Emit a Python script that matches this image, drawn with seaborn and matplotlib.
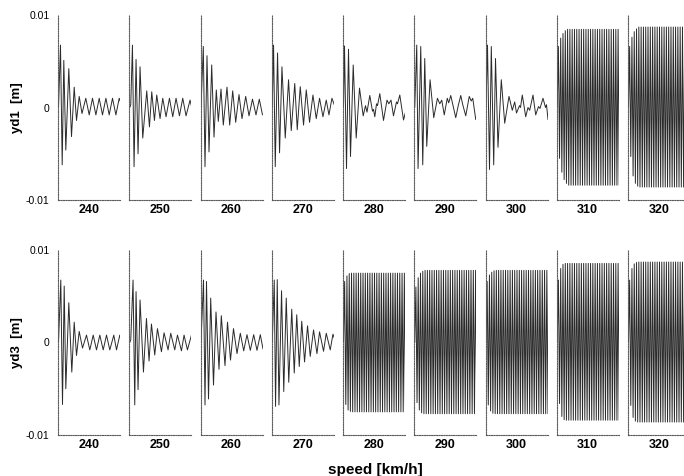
import numpy as np
import pandas as pd
import matplotlib
matplotlib.use("Agg")
import matplotlib.pyplot as plt
import seaborn as sns

# ---------------- data ----------------
speeds = [240, 250, 260, 270, 280, 290, 300, 310, 320]
row_labels = ["yd1  [m]", "yd3  [m]"]
y_ticks = [-0.01, 0.0, 0.01]
y_tick_labels = ["-0.01", "0", "0.01"]
x_title = "speed [km/h]"

# damped responses: (time in panel units 0..62, displacement in mm) at extrema
yd1_240 = [(0, 0), (2, 6.75), (3.7, -6.2), (5.3, 5.1), (7.3, -4.6), (10.3, 4.2), (13, -3.15),
           (15.7, 2.2), (18, -1.4), (20.7, 1.2), (23.5, -0.65), (27.3, 1.0), (30.7, -0.8),
           (34, 1.0), (37.4, -0.8), (40.7, 1.0), (44, -0.8), (47.4, 1.0), (50.7, -0.8),
           (54, 1.0), (57.4, -0.8), (60.7, 1.0), (62, 0.6)]
yd1_250 = [(0, 0), (1, 0.3), (2.7, 6.75), (4.3, -6.4), (6.3, 5.2), (8.3, -5.0), (10.3, 4.4),
           (13, -3.3), (17, 1.8), (19.7, -2.1), (22, 1.7), (24.7, -1.4), (27, 1.35), (30.3, -1.2),
           (33, 1.0), (36.3, -1.0), (39.7, 1.0), (43, -1.0), (46.3, 1.0), (49.7, -0.9), (53, 1.0),
           (56.3, -0.9), (60.3, 0.8), (62, 0.0)]
yd1_260 = [(0, 0), (2.3, 6.6), (4, -6.4), (6, 5.6), (8, -4.8), (10.7, 4.6), (13, -3.2), (15.3, 1.9),
           (17.3, -1.5), (20, 2.0), (22.3, -1.9), (26, 2.2), (28.7, -1.9), (31.7, 1.8), (34.7, -1.6),
           (38, 1.4), (41, -1.2), (44.7, 1.2), (48, -0.9), (51.5, 0.9), (55, -0.8), (58.3, 0.9),
           (61.5, -0.8)]
yd1_270 = [(0, 0), (1.3, 6.75), (3, -6.4), (5.3, 5.9), (7.3, -4.9), (9.7, 4.4), (13, -3.3),
           (16.3, 3.0), (19, -2.5), (22.5, 2.6), (25, -2.4), (28, 2.25), (31.3, -1.9), (34, 1.9),
           (37.3, -1.6), (40.7, 1.35), (44, -1.2), (47.3, 1.0), (50.7, -1.0), (54, 0.8),
           (56.7, -0.8), (59.7, 1.0), (62, 0.3)]
yd1_280 = [(0, 0), (1, 6.65), (3, -6.6), (5, 6.3), (7, -5.3), (9.7, 4.6), (12.7, -3.3), (16, 2.1),
           (19.7, -0.9), (22, 0.2), (23.5, -0.5), (26.3, 1.3), (29, -0.4), (30, -0.2), (31.3, -1.0),
           (33, 0.4), (34, 0.2), (36.3, 1.5), (40, -1.4), (43.5, 0.8), (45.3, 0.4), (47.5, 0.8),
           (50, -0.9), (53, 0.6), (54, 0.4), (56.3, 1.35), (60, -1.35), (62, -0.5)]
yd1_290 = [(0, 0), (2, 6.75), (3.3, -6.6), (6, 6.6), (8, -6.2), (10, 5.3), (12, -4.2), (15.3, 3.0),
           (19, -1.1), (22.7, 1.0), (25, 0.4), (27, 0.8), (29.5, -0.8), (32.5, 1.0), (34, 0.5),
           (36, 1.3), (41, -1.1), (43.5, 0.2), (46, 1.3), (48, 0.3), (51, -0.9), (54.5, 1.2),
           (56.5, 0.7), (58, 1.0), (61, -1.3), (62, -0.9)]
yd1_300 = [(0, 0), (1.5, 6.75), (3.5, -6.7), (5.3, 6.6), (7.7, -6.2), (9.5, 5.3), (12, -4.3),
           (15.3, 3.0), (18.7, -1.7), (23, 1.2), (26.3, -0.3), (28.7, 0.6), (30.5, -0.6),
           (33.5, 0.2), (34.5, 0.0), (36.3, 1.35), (39.7, -1.0), (42, 0.0), (43.7, -0.3),
           (47, 1.35), (49.7, -0.8), (52.5, 0.1), (54, -0.1), (57, 1.0), (59.5, 0.0), (60.5, 0.3),
           (62, -1.3)]
yd3_240 = [(0, 0), (2.3, 6.75), (4, -6.7), (5.7, 6.1), (7.3, -5.0), (10.3, 4.3), (13.3, -3.2),
           (15.7, 2.2), (18, -1.4), (20.7, 1.2), (24, -0.6), (28, 0.8), (31.3, -0.8), (34.7, 0.8),
           (38, -0.8), (41.3, 0.8), (44.7, -0.8), (48, 0.8), (51.3, -0.8), (55.3, 0.8), (58, -0.8),
           (61.3, 0.8), (62, 0.5)]
yd3_250 = [(0, 0), (1, 0.3), (3.3, 6.75), (5, -6.75), (6.3, 5.5), (8.3, -5.1), (10.3, 4.6),
           (13.7, -3.2), (16.7, 2.6), (19.3, -2.0), (21.7, 2.0), (25, -1.35), (27.7, 1.5),
           (31.7, -1.0), (34.3, 1.05), (38.3, -0.8), (41, 1.0), (45, -0.8), (47.7, 0.8),
           (51.7, -0.9), (54.3, 0.8), (57.7, -0.8), (61.7, 0.8)]
yd3_260 = [(0, 0), (2.5, 6.75), (4, -6.75), (5.5, 6.6), (7.5, -6.1), (9.7, 4.8), (12.5, -4.6),
           (15, 3.3), (18, -2.9), (20.3, 2.9), (24, -2.5), (26.5, 2.2), (29.5, -1.9), (32.5, 1.5),
           (36, -1.2), (39.3, 1.0), (42.7, -0.9), (46, 0.85), (49.3, -0.85), (52.7, 0.85),
           (56, -0.85), (59.3, 0.85), (62, -0.7)]
yd3_270 = [(0, 0), (2, 6.75), (3.3, -6.9), (5, 6.8), (6.7, -6.75), (9.3, 5.6), (11.5, -5.3),
           (14, 4.8), (16.5, -4.3), (19.5, 3.6), (22, -3.3), (24.5, 3.0), (27, -2.6), (29.5, 2.3),
           (32.3, -2.1), (35.3, 1.8), (38, -1.5), (41.3, 1.35), (44.7, -1.2), (47.3, 1.15),
           (51.3, -0.95), (54, 1.0), (58, -0.8), (60.7, 0.9), (62, 0.5)]

# limit-cycle responses: peak / trough amplitudes (mm) during build-up, last = steady level
n_cycles = 27
yd1_310_peaks = [6.6, 7.5, 8.0, 8.3, 8.45]
yd1_310_troughs = [-5.5, -7.0, -7.8, -8.2, -8.4]
yd1_320_peaks = [6.6, 7.6, 8.2, 8.5, 8.7]
yd1_320_troughs = [-5.3, -7.4, -8.2, -8.5, -8.6]
yd3_280_peaks = [6.6, 7.2, 7.45, 7.5]
yd3_280_troughs = [-6.7, -7.3, -7.45, -7.5]
yd3_290_peaks = [6.0, 7.0, 7.5, 7.7, 7.8]
yd3_290_troughs = [-6.5, -7.3, -7.6, -7.7]
yd3_300_peaks = [6.6, 7.3, 7.6, 7.75, 7.8]
yd3_300_troughs = [-6.75, -7.4, -7.65, -7.7]
yd3_310_peaks = [6.75, 8.0, 8.45, 8.55]
yd3_310_troughs = [-6.6, -8.0, -8.35, -8.4]
yd3_320_peaks = [6.75, 8.0, 8.5, 8.65, 8.7]
yd3_320_troughs = [-6.8, -8.1, -8.5, -8.6]


def damped_frame(pairs):
    t, y = zip(*pairs)
    return pd.DataFrame({"t": np.array(t) + 0.5, "y": np.array(y) * 1e-3})


def dense_frame(peaks, troughs):
    pk = peaks + [peaks[-1]] * (n_cycles - len(peaks))
    tr = troughs + [troughs[-1]] * (n_cycles - len(troughs))
    ys = [0.0]
    for a, b in zip(pk, tr):
        ys += [a, b]
    ts = np.linspace(0.5, 62.5, len(ys))
    return pd.DataFrame({"t": ts, "y": np.array(ys) * 1e-3})


rows = [
    [damped_frame(yd1_240), damped_frame(yd1_250), damped_frame(yd1_260), damped_frame(yd1_270),
     damped_frame(yd1_280), damped_frame(yd1_290), damped_frame(yd1_300),
     dense_frame(yd1_310_peaks, yd1_310_troughs), dense_frame(yd1_320_peaks, yd1_320_troughs)],
    [damped_frame(yd3_240), damped_frame(yd3_250), damped_frame(yd3_260), damped_frame(yd3_270),
     dense_frame(yd3_280_peaks, yd3_280_troughs), dense_frame(yd3_290_peaks, yd3_290_troughs),
     dense_frame(yd3_300_peaks, yd3_300_troughs), dense_frame(yd3_310_peaks, yd3_310_troughs),
     dense_frame(yd3_320_peaks, yd3_320_troughs)],
]

# ---------------- figure ----------------
sns.set_style("white")
plt.rcParams["font.family"] = ["Liberation Sans", "DejaVu Sans"]
plt.rcParams["text.color"] = "black"
plt.rcParams["ytick.color"] = "black"
plt.rcParams["ytick.labelcolor"] = "black"

W, H = 684, 476
fig = plt.figure(figsize=(W / 100, H / 100), dpi=100)

panel_w = 62
pitch = 71.25
row_tops = [15, 250]
row_bottoms = [200, 435]
ylabel_y = [107.5, 342.5]

for r in range(2):
    for i, s in enumerate(speeds):
        left = 58 + i * pitch
        ax = fig.add_axes([left / W, 1 - row_bottoms[r] / H, panel_w / W,
                           (row_bottoms[r] - row_tops[r]) / H])
        df = rows[r][i]
        sns.lineplot(data=df, x="t", y="y", ax=ax, color="#2b2b2b", lw=0.7,
                     estimator=None, sort=False)
        ax.set_xlim(0, 62)
        ax.set_ylim(-0.01, 0.01)
        ax.set_xlabel("")
        ax.set_ylabel("")
        ax.set_xticks([])
        for sp in ["top", "right"]:
            ax.spines[sp].set_visible(False)
        for sp in ["left", "bottom"]:
            ax.spines[sp].set_color("#5a5a5a")
            ax.spines[sp].set_linewidth(0.8)
            ax.spines[sp].set_linestyle((0, (1, 1.2)))
        if i == 0:
            ax.set_yticks(y_ticks)
            ax.set_yticklabels(y_tick_labels, fontsize=7.5)
            ax.tick_params(axis="y", length=0, pad=6, labelcolor="black")
        else:
            ax.set_yticks([])
        ax.annotate(str(s), xy=(0.5, 0), xycoords="axes fraction", xytext=(0, -7.5),
                    textcoords="offset points", ha="center", va="center",
                    fontsize=9, fontweight="bold", color="black")
    fig.text(17 / W, 1 - ylabel_y[r] / H, row_labels[r], rotation=90, ha="center",
             va="center", fontsize=9.5, fontweight="bold", color="black")

fig.text(375 / W, 1 - 470 / H, x_title, ha="center", va="center", fontsize=11,
         fontweight="bold", color="black")

fig.savefig("out.png", dpi=100)
